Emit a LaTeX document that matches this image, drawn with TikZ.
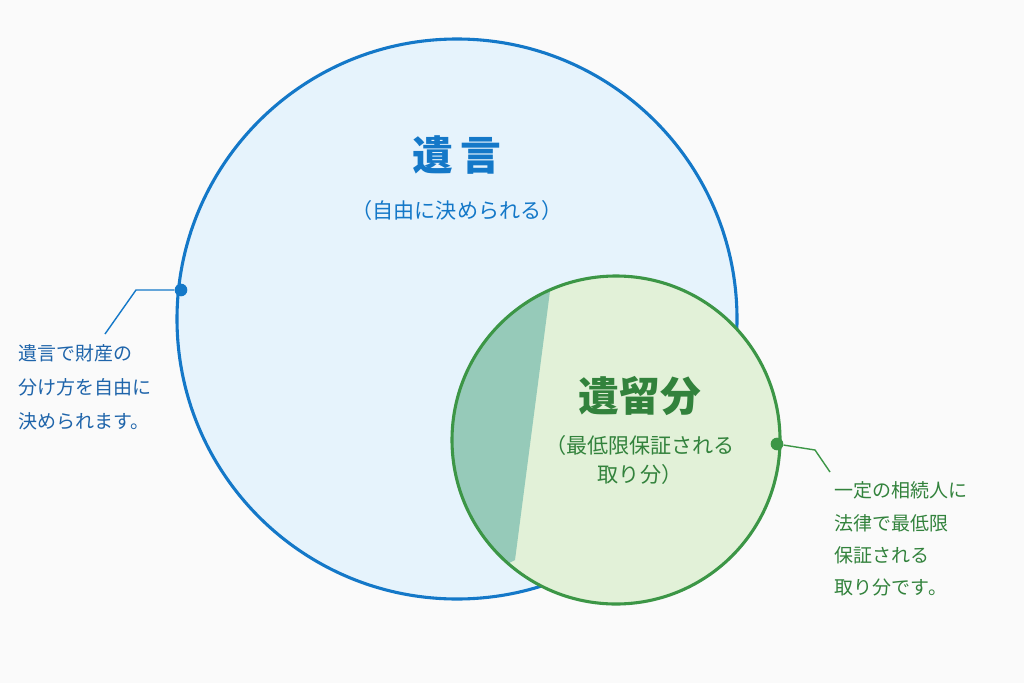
\documentclass[tikz,border=0pt]{standalone}
\usepackage{fontspec}
\setmainfont{Noto Sans CJK JP}
\definecolor{willblue}{RGB}{20,120,200}
\definecolor{willfill}{RGB}{230,243,252}
\definecolor{resgreen}{RGB}{60,150,70}
\definecolor{resfill}{RGB}{226,241,216}
\definecolor{resdark}{RGB}{150,202,185}
\definecolor{noteblue}{RGB}{30,100,170}
\definecolor{notegreen}{RGB}{50,130,60}
\begin{document}
\begin{tikzpicture}[x=0.025cm,y=-0.025cm]
	\tikzstyle{title} = [font=\fontsize{29}{34}\selectfont\bfseries]
	\tikzstyle{sub} = [font=\fontsize{15}{20}\selectfont]
	\tikzstyle{note} = [font=\fontsize{13.5}{24}\selectfont, align=left, anchor=north west]
	\tikzstyle{dot} = [circle, inner sep=0pt, minimum size=9pt]
	\useasboundingbox[fill={rgb,255:red,250;green,250;blue,250}] (0,0) rectangle (1024,683);

	% circles
	\fill[willfill] (457,319) circle (280);
	\draw[willblue, line width=2.2pt] (457,319) circle (280);
	\fill[resfill] (616,440) circle (164);
	\begin{scope}
		\clip (616,440) circle (164);
		\fill[resdark] (400,260) -- (553,268) -- (515,560) -- (400,620) -- cycle;
	\end{scope}
	\draw[resgreen, line width=2.2pt] (616,440) circle (164);

	% labels
	\node[title, text=willblue] (will) at (457,155) {遺\,言};
	\node[sub, text=willblue] (willsub) at (457,210) {（自由に決められる）};
	\node[title, text=notegreen] (res) at (640,396) {遺留分};
	\node[sub, text=notegreen, align=center] (ressub) at (640,460) {（最低限保証される\\取り分）};

	% notes
	\node[dot, fill=willblue] (wdot) at (181,290) {};
	\coordinate (wbend) at (136,290);
	\coordinate (wend) at (105,334);
	\draw[willblue, line width=1pt] (wdot) -- (wbend) -- (wend);
	\node[note, text=noteblue] (wnote) at (14,340) {遺言で財産の\\分け方を自由に\\決められます。};

	\node[dot, fill=resgreen] (rdot) at (777,444) {};
	\coordinate (rbend) at (815,450);
	\coordinate (rend) at (830,472);
	\draw[resgreen, line width=1pt] (rdot) -- (rbend) -- (rend);
	\node[note, text=notegreen, font=\fontsize{13.5}{23}\selectfont] (rnote) at (830,477) {一定の相続人に\\法律で最低限\\保証される\\取り分です。};
\end{tikzpicture}
\end{document}
